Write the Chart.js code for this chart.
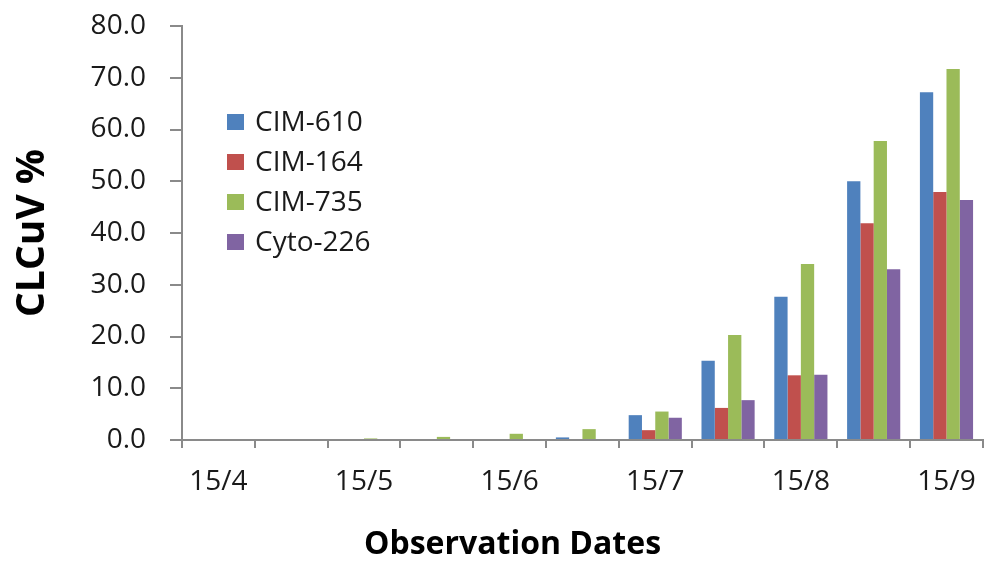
<!DOCTYPE html>
<html>
<head>
<meta charset="utf-8">
<script src="https://cdn.jsdelivr.net/npm/chart.js@4"></script>
<style>
  html, body { margin: 0; padding: 0; background: #fff; overflow: hidden; }
  #wrap { position: relative; width: 993px; height: 564px; }
  #legenda { position: absolute; left: 227px; top: 100px; font-family: 'Open Sans', sans-serif; font-size: 28px; color: #1a1a1a; }
  #legenda div { height: 40px; line-height: 40px; white-space: nowrap; }
  #legenda span { display: inline-block; width: 17px; height: 16px; margin-right: 11px; vertical-align: middle; position: relative; top: -2px; }
</style>
</head>
<body>
<div id="wrap">
  <canvas id="grafico" width="993" height="564"></canvas>
  <div id="legenda"></div>
</div>
<script>
// datas de observação (só metade tem rótulo no eixo)
const datas = ['15/4', '', '15/5', '', '15/6', '', '15/7', '', '15/8', '', '15/9'];

// CLCuV % por variedade
const cim610 = [0, 0, 0, 0, 0, 0.5, 4.8, 15.3, 27.7, 50.0, 67.2];
const cim164 = [0, 0, 0, 0, 0, 0, 1.9, 6.2, 12.5, 41.9, 47.9];
const cim735 = [0, 0, 0.3, 0.6, 1.2, 2.1, 5.5, 20.3, 34.0, 57.8, 71.7];
const cyto226 = [0, 0, 0, 0, 0, 0, 4.3, 7.7, 12.6, 33.0, 46.4];

const nomes = ['CIM-610', 'CIM-164', 'CIM-735', 'Cyto-226'];
const cores = ['#4f81bd', '#c0504d', '#9bbb59', '#8064a2'];

const corEixo = '#8a8a8a';
Chart.defaults.font.family = "'Open Sans', sans-serif";
Chart.defaults.color = '#1a1a1a';

const series = [cim610, cim164, cim735, cyto226];

const grafico = new Chart(document.getElementById('grafico'), {
  type: 'bar',
  data: {
    labels: datas,
    datasets: series.map((valores, i) => ({
      label: nomes[i],
      data: valores,
      backgroundColor: cores[i],
      borderWidth: 0,
      categoryPercentage: 0.73,
      barPercentage: 1.0
    }))
  },
  options: {
    responsive: false,
    animation: false,
    layout: { padding: { left: 40, right: 8, top: 26, bottom: 0 } },
    plugins: {
      legend: { display: false },
      tooltip: { enabled: false },
      title: {
        display: true,
        position: 'bottom',
        text: 'Observation Dates',
        color: '#000',
        font: { size: 32, weight: 'bold' },
        padding: { top: 0, bottom: 0 }
      }
    },
    scales: {
      x: {
        grid: { offset: true, drawOnChartArea: false, drawTicks: true, tickLength: 8, color: corEixo, lineWidth: 2 },
        border: { color: corEixo, width: 2 },
        ticks: { autoSkip: false, maxRotation: 0, padding: 17, font: { size: 28 } },
        afterFit: s => { s.height = 85.6; }
      },
      y: {
        min: 0,
        max: 80,
        grid: { drawOnChartArea: false, drawTicks: true, tickLength: 12, color: corEixo, lineWidth: 2 },
        border: { color: corEixo, width: 2 },
        ticks: { stepSize: 10, padding: 24, font: { size: 28 }, callback: v => v.toFixed(1) },
        title: {
          display: true,
          text: 'CLCuV %',
          color: '#000',
          font: { size: 39, weight: 'bold' },
          padding: { top: -31, bottom: 0 }
        },
        afterFit: s => {
          s.width = 142;
          // o padding dos rótulos empurrava o topo do gráfico para baixo
          s.paddingTop = 0;
          s.paddingBottom = 0;
        }
      }
    }
  }
});

// legenda em HTML, dentro da área do gráfico
const legenda = document.getElementById('legenda');
grafico.data.datasets.forEach(ds => {
  const linha = document.createElement('div');
  const quadrado = document.createElement('span');
  quadrado.style.background = ds.backgroundColor;
  linha.appendChild(quadrado);
  linha.appendChild(document.createTextNode(ds.label));
  legenda.appendChild(linha);
});
</script>
</body>
</html>
